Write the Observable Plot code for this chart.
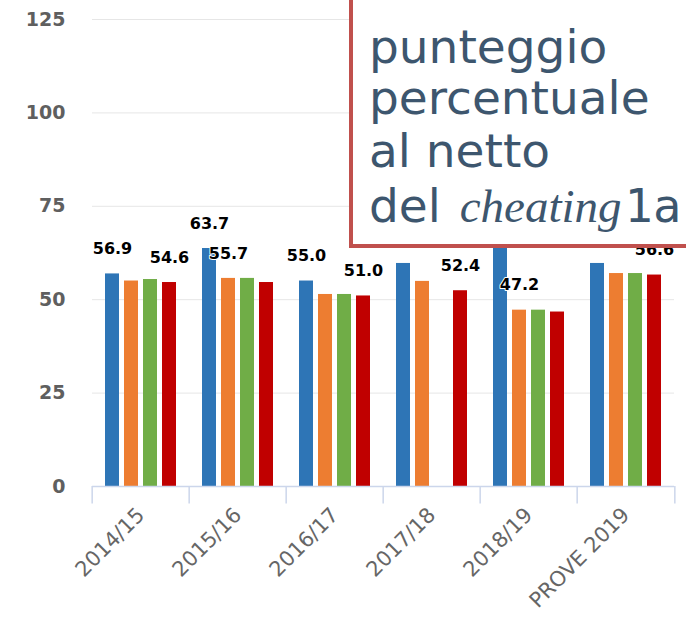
<!DOCTYPE html>
<html><head><meta charset="utf-8">
<script src="https://cdn.jsdelivr.net/npm/d3@7"></script>
<script src="https://cdn.jsdelivr.net/npm/@observablehq/plot@0.6"></script>
<style>
body{margin:0;background:#fff}
#wrap{position:relative;width:686px;height:617px;overflow:hidden}
#wrap svg.ov{position:absolute;left:0;top:0}
[aria-label^="y-axis"] text{font-weight:bold;font-size:19px;fill:#5f5f5f}
[aria-label^="fx-axis"] text{font-size:21px;fill:#666}
</style></head><body><div id="wrap"></div>
<script>
const categories = ["2014/15","2015/16","2016/17","2017/18","2018/19","PROVE 2019"];
const seriesNames = ["Serie 1","Serie 2","Serie 3","Serie 4"];
const seriesColors = ["#2e75b6","#ed7d31","#70ad47","#c00000"];
const serie1 = [56.9, 63.7, 55.0, 59.7, 66.0, 59.7];
const serie2 = [55.0, 55.7, 51.4, 54.9, 47.2, 57.0];
const serie3 = [55.4, 55.7, 51.4, null, 47.2, 57.0];
const serie4 = [54.6, 54.6, 51.0, 52.4, 46.7, 56.6];
const labels1 = ["56.9","63.7","55.0",null,null,null];
const labels2 = [null,"55.7",null,null,"47.2",null];
const labels3 = [null,null,null,null,null,null];
const labels4 = ["54.6",null,"51.0","52.4",null,"56.6"];
const yTicks = [0,25,50,75,100,125];
const boxLines = ["punteggio","percentuale","al netto","del "];
const boxItalic = "cheating";
const boxMono = "1a";

const allSeries = [serie1, serie2, serie3, serie4];
const allLabels = [labels1, labels2, labels3, labels4];
const rows = [];
categories.forEach((c, i) => {
  seriesNames.forEach((s, j) => {
    const v = allSeries[j][i];
    if (v != null) rows.push({cat: c, series: s, value: v, label: allLabels[j][i]});
  });
});

const W = 686, H = 617, ML = 90, MR = 10, MT = 19, MB = 131;
const bw = (W - ML - MR) / categories.length;
const axisColor = "#ccd6eb";

const chart = Plot.plot({
  width: W, height: H,
  marginLeft: ML, marginRight: MR, marginTop: MT, marginBottom: MB,
  style: {fontFamily: "DejaVu Sans", background: "white"},
  fx: {domain: categories, padding: 0, axis: "bottom", tickRotate: -45, tickSize: 0, tickPadding: 25, label: null},
  x: {domain: seriesNames, paddingInner: 0.25, paddingOuter: 0.655, axis: null},
  y: {domain: [0, 125], ticks: yTicks, tickSize: 0, tickPadding: 27, label: null, tickFormat: d => String(d)},
  color: {domain: seriesNames, range: seriesColors},
  marks: [
    Plot.ruleY(yTicks.filter(d => d > 0), {stroke: "#e6e6e6", strokeWidth: 1}),
    Plot.barY(rows, {fx: "cat", x: "series", y: "value", fill: "series"}),
    Plot.ruleY([0], {stroke: axisColor, strokeWidth: 1.5}),
    Plot.ruleX(categories, {fx: d => d, x: null, y1: 0, y2: -4.7, dx: -bw / 2, stroke: axisColor, strokeWidth: 1.5}),
    Plot.ruleX(categories.slice(-1), {fx: d => d, x: null, y1: 0, y2: -4.7, dx: bw / 2, stroke: axisColor, strokeWidth: 1.5}),
    Plot.text(rows.filter(d => d.label), {fx: "cat", x: "series", y: "value", text: "label", dy: -25,
      fontWeight: "bold", fontSize: 16, fill: "black", stroke: "white", strokeWidth: 2})
  ]
});
const wrap = document.getElementById("wrap");
wrap.appendChild(chart);

const ns = "http://www.w3.org/2000/svg";
const ov = document.createElementNS(ns, "svg");
ov.setAttribute("class", "ov");
ov.setAttribute("width", W); ov.setAttribute("height", H);
const rect = document.createElementNS(ns, "rect");
rect.setAttribute("x", 351); rect.setAttribute("y", -10);
rect.setAttribute("width", 420); rect.setAttribute("height", 256);
rect.setAttribute("fill", "white"); rect.setAttribute("stroke", "#c0504d"); rect.setAttribute("stroke-width", 4);
ov.appendChild(rect);
const baselines = [63, 114, 167, 222];
boxLines.forEach((t, i) => {
  const tx = document.createElementNS(ns, "text");
  tx.setAttribute("x", 369); tx.setAttribute("y", baselines[i]);
  tx.setAttribute("font-family", "DejaVu Sans"); tx.setAttribute("font-size", 47);
  tx.setAttribute("fill", "#3d566e");
  tx.style.whiteSpace = "pre";
  tx.textContent = t;
  if (i === boxLines.length - 1) {
    const a = document.createElementNS(ns, "tspan");
    a.setAttribute("font-family", "Liberation Serif"); a.setAttribute("font-style", "italic");
    a.setAttribute("dx", 4);
    a.textContent = boxItalic; tx.appendChild(a);
    const b = document.createElementNS(ns, "tspan");
    b.setAttribute("font-family", "DejaVu Sans Mono");
    b.setAttribute("dx", 3);
    b.textContent = boxMono; tx.appendChild(b);
  }
  ov.appendChild(tx);
});
wrap.appendChild(ov);
</script></body></html>
